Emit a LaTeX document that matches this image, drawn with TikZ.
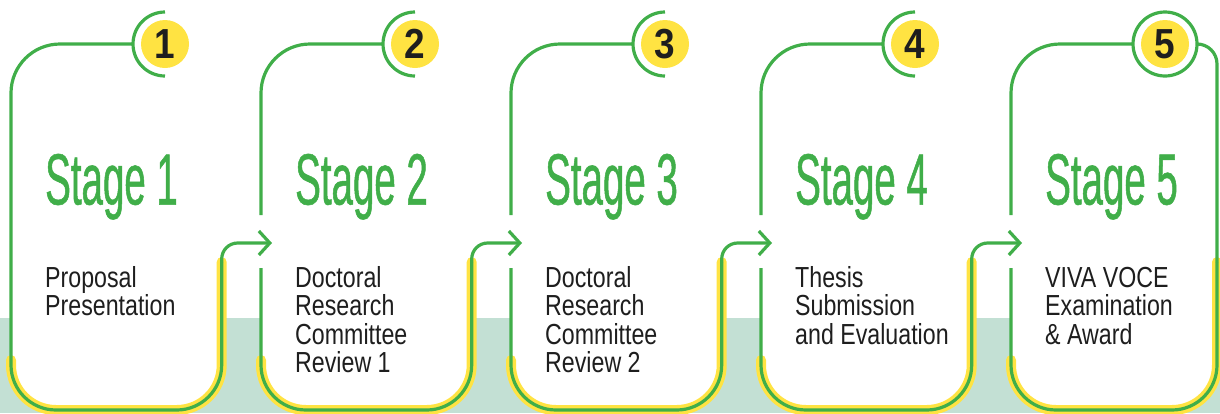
\documentclass[tikz,border=0pt]{standalone}
\usepackage{fontspec}
\usepackage{graphicx}
\setmainfont{Liberation Sans}
\newfontfamily\titlefont[FakeStretch=0.53,FakeBold=0.7]{Liberation Sans}
\newfontfamily\bodyfont[FakeStretch=0.8]{Liberation Sans}
\newfontfamily\numfont[FakeStretch=0.88]{Liberation Sans}
\usetikzlibrary{arrows.meta}

\definecolor{stagegreen}{RGB}{64,174,73}
\definecolor{stageyellow}{RGB}{255,227,66}
\definecolor{bandgreen}{RGB}{195,224,212}
\definecolor{inkblack}{RGB}{30,30,30}

\begin{document}
\begin{tikzpicture}[x=1pt,y=-1pt,
    outline/.style={draw=stagegreen,line width=3.2pt},
    glow/.style={draw=stageyellow,line width=10pt,line cap=round},
    numdot/.style={circle,fill=stageyellow,minimum size=48pt,inner sep=0pt,
      text=inkblack,font=\numfont\bfseries\fontsize{42}{42}\selectfont},
    stagetitle/.style={anchor=base west,inner sep=0pt,text=stagegreen,
      font=\titlefont\fontsize{72.6}{72.6}\selectfont},
    desc/.style={anchor=base west,inner sep=0pt,align=left,text=inkblack,
      font=\bodyfont\fontsize{29}{28.6}\selectfont},
    nextarrow/.style={draw=stagegreen,line width=3.2pt,rounded corners=16pt,
      -{Straight Barb[length=11pt,width=24pt]}}]
  \useasboundingbox (0,0) rectangle (1220,413);

  % band along the bottom
  \fill[bandgreen] (0,318) rectangle (1220,413);

  % stage / lines of text / text
  \foreach \i/\n/\txt [evaluate=\i as \o using {250*(\i-1)}] in
      {1/2/{Proposal\\Presentation},
       2/4/{Doctoral\\Research\\Committee\\Review 1},
       3/4/{Doctoral\\Research\\Committee\\Review 2},
       4/3/{Thesis\\Submission\\and Evaluation},
       5/3/{VIVA VOCE\\Examination\\\& Award}} {
    \pgfmathsetmacro{\r}{\i<5 ? 221.7+\o : 1217}
    \fill[white,rounded corners=45pt] (11+\o,272) -- (11+\o,410) -- (\r,410) -- (\r,272) -- cycle;
    \draw[glow,rounded corners=45pt] (11+\o,360) -- (11+\o,410) -- (\r,410) -- (\r,262);

    \node[numdot] (num\i) at (165+\o,44) {\i};
    \node[stagetitle] (title\i) at (45+\o,204.5) {Stage \i};
    \node[desc] (desc\i) at (45+\o,{287+28.6*(\n-1)}) {\txt};

    \ifnum\i=1
      \draw[outline,rounded corners=49pt] (133+\o,44) -- (11+\o,44) -- (11+\o,300);
      \draw[outline,rounded corners=45pt] (11+\o,300) -- (11+\o,410) -- (\r,410) -- (\r,262);
    \else
      \draw[outline,rounded corners=49pt] (133+\o,44) -- (11+\o,44) -- (11+\o,215);
      \draw[outline,rounded corners=45pt] (11+\o,268) -- (11+\o,410) -- (\r,410) -- (\r,262);
    \fi

    \ifnum\i<5
      \draw[outline] (num\i.center) ++(0,-32) arc[start angle=90,end angle=270,radius=32pt];
      \coordinate (out\i) at (\r,262);
      \coordinate (in\i) at (272+\o,243);
      \draw[nextarrow] (out\i) |- (in\i);
    \else
      \draw[outline] (num\i.center) circle[radius=32pt];
      \draw[outline,rounded corners=20pt] (1197,44) -- (\r,44) -- (\r,262);
    \fi
  }
\end{tikzpicture}
\end{document}
